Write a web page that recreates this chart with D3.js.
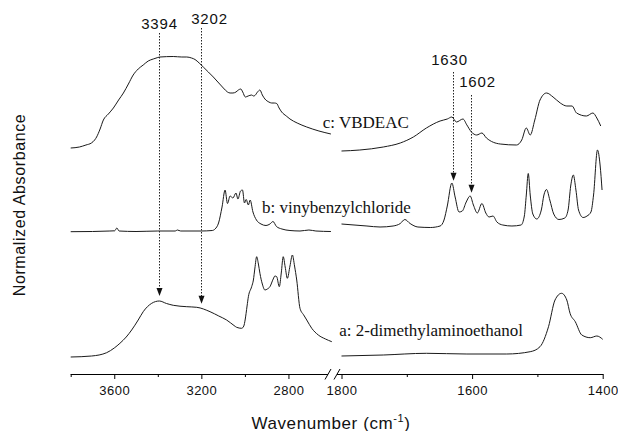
<!DOCTYPE html>
<html><head><meta charset="utf-8">
<script src="https://cdn.jsdelivr.net/npm/d3@7"></script>
<style>body{margin:0;background:#fff} svg{display:block}</style>
</head><body><svg id="chart" width="618" height="431"></svg>
<script>
// ---------- data (wavenumber in cm-1, normalized absorbance with stacking offset) ----------
const cLeftWn  = [3800,3760,3730,3705,3690,3681,3665,3650,3627,3604,3580,3558,3535,3513,3490,3467,3444,3421,3400,3390,3329,3290,3267,3245,3229,3210,3191,3168,3145,3120,3099,3080,3068,3055,3041,3030,3019,3010,2998,2985,2969,2960,2954,2942,2931,2920,2908,2890,2877,2865,2854,2843,2831,2810,2793,2760,2716,2660,2605];
const cLeftAbs = [2.22,2.23,2.25,2.27,2.30,2.33,2.41,2.50,2.56,2.62,2.70,2.77,2.86,2.95,3.01,3.05,3.09,3.11,3.125,3.13,3.135,3.13,3.13,3.12,3.105,3.07,3.03,2.98,2.93,2.87,2.82,2.78,2.77,2.77,2.78,2.80,2.81,2.78,2.73,2.74,2.75,2.74,2.745,2.78,2.80,2.75,2.71,2.68,2.67,2.67,2.665,2.62,2.58,2.54,2.51,2.47,2.43,2.39,2.36];
const cRightWn  = [1800,1772,1736,1710,1690,1670,1649,1638,1631,1624,1614,1608,1601,1593,1585,1578,1557,1532,1524,1517,1511,1504,1496,1486,1476,1465,1455,1447,1440,1425,1415,1409,1403];
const cRightAbs = [2.19,2.20,2.23,2.27,2.33,2.42,2.49,2.51,2.53,2.48,2.51,2.45,2.38,2.35,2.37,2.32,2.26,2.25,2.30,2.42,2.35,2.50,2.70,2.77,2.73,2.67,2.64,2.64,2.57,2.54,2.57,2.52,2.44];

const bLeftWn  = [3800,3700,3620,3598,3588,3578,3500,3400,3320,3310,3295,3200,3150,3137,3121,3105,3091,3080,3068,3055,3041,3032,3020,3011,3002,2994,2984,2976,2963,2947,2926,2903,2885,2871,2855,2830,2793,2747,2706,2674,2605];
const bLeftAbs = [1.383,1.385,1.39,1.392,1.42,1.39,1.385,1.39,1.39,1.40,1.39,1.39,1.395,1.41,1.47,1.63,1.80,1.665,1.74,1.72,1.77,1.71,1.79,1.80,1.67,1.705,1.65,1.70,1.58,1.50,1.46,1.445,1.46,1.485,1.435,1.41,1.395,1.39,1.40,1.39,1.385];
const bRightWn  = [1800,1761,1741,1721,1710,1703,1695,1683,1664,1649,1643,1638,1631,1626,1620,1615,1609,1603,1598,1592,1585,1579,1574,1568,1562,1553,1539,1525,1520,1517,1514,1511,1507,1501,1494,1490,1486,1481,1475,1467,1458,1453,1449,1445,1441,1437,1430,1424,1418,1414,1408,1404,1401];
const bRightAbs = [1.46,1.44,1.43,1.44,1.465,1.505,1.465,1.43,1.425,1.44,1.50,1.64,1.87,1.73,1.58,1.59,1.68,1.74,1.65,1.57,1.665,1.57,1.53,1.54,1.48,1.45,1.44,1.45,1.54,1.75,1.965,1.75,1.56,1.51,1.60,1.75,1.805,1.70,1.56,1.505,1.52,1.60,1.84,1.95,1.80,1.60,1.525,1.54,1.58,1.75,2.20,2.05,1.80];

const aLeftWn  = [3800,3704,3635,3600,3574,3545,3520,3490,3467,3428,3393,3360,3329,3267,3221,3160,3120,3084,3050,3038,3015,3005,2999,2990,2984,2969,2961,2954,2946,2938,2931,2920,2908,2897,2885,2870,2862,2854,2842,2833,2824,2815,2805,2793,2782,2772,2762,2747,2730,2716,2693,2663,2630,2601];
const aLeftAbs = [0.13,0.14,0.173,0.22,0.267,0.33,0.40,0.50,0.583,0.667,0.69,0.665,0.647,0.633,0.627,0.583,0.54,0.50,0.445,0.427,0.417,0.44,0.50,0.64,0.733,0.833,0.90,1.02,1.133,1.06,0.967,0.86,0.80,0.81,0.833,0.91,0.94,0.933,0.833,0.97,1.133,1.03,0.917,1.04,1.15,1.04,0.90,0.617,0.55,0.50,0.417,0.35,0.31,0.283];
const aRightWn  = [1800,1736,1670,1608,1547,1511,1496,1483,1473,1463,1455,1450,1442,1432,1419,1409,1400];
const aRightAbs = [0.14,0.15,0.167,0.16,0.16,0.183,0.233,0.433,0.70,0.767,0.70,0.567,0.483,0.35,0.323,0.34,0.307];

const seriesNames = ["c: VBDEAC", "b: vinybenzylchloride", "a: 2-dimethylaminoethanol"];
const leftTicksMajor  = [3600, 3200, 2800];
const leftTicksMinor  = [3800, 3400, 3000];
const rightTicksMajor = [1800, 1600, 1400];
const rightTicksMinor = [1700, 1500];
const annotationWn     = [3394, 3202, 1630, 1602];
const annotationLabels = ["3394", "3202", "1630", "1602"];
const xTitle = "Wavenumber (cm";
const xTitleSup = "-1";
const yTitle = "Normalized Absorbance";

// ---------- drawing ----------
const svg = d3.select("#chart");
const xL = d3.scaleLinear().domain([3800, 2600]).range([70.7, 332]);
const xR = d3.scaleLinear().domain([1800, 1400]).range([341.5, 602.7]);
const y  = d3.scaleLinear().domain([0, 3.5]).range([370, 20]);

const zip = (w, a) => w.map((v, i) => [v, a[i]]);
const series = [
  {x: xL, pts: zip(cLeftWn, cLeftAbs)},
  {x: xR, pts: zip(cRightWn, cRightAbs)},
  {x: xL, pts: zip(bLeftWn, bLeftAbs)},
  {x: xR, pts: zip(bRightWn, bRightAbs)},
  {x: xL, pts: zip(aLeftWn, aLeftAbs)},
  {x: xR, pts: zip(aRightWn, aRightAbs)}
];
const lineCol = "#1a1a1a";
series.forEach(s => {
  const line = d3.line().x(d => s.x(d[0])).y(d => y(d[1])).curve(d3.curveMonotoneX);
  svg.append("path").attr("d", line(s.pts)).attr("fill", "none")
     .attr("stroke", lineCol).attr("stroke-width", 1);
});

// series labels
const serif = "'Liberation Serif','Times New Roman',serif";
const labelPos = [[322.7, 127.5], [262, 212.5], [339.3, 336]];
seriesNames.forEach((t, i) => {
  svg.append("text").attr("x", labelPos[i][0]).attr("y", labelPos[i][1])
     .attr("font-family", serif).attr("font-size", 17).attr("fill", "#111").text(t);
});

// axes
const sans = "'Liberation Sans',Arial,Helvetica,sans-serif";
const axisY = 374;
function drawAxis(scale, major, minor) {
  const g = svg.append("g").attr("transform", `translate(0,${axisY})`)
    .call(d3.axisBottom(scale).tickValues(major).tickSize(5).tickSizeOuter(0).tickFormat(d3.format("d")));
  g.select(".domain").remove();
  g.selectAll("text").attr("y", 12).attr("font-size", 13).attr("font-family", sans)
    .style("letter-spacing", "0.5px").attr("fill", "#111");
  const gm = svg.append("g").attr("transform", `translate(0,${axisY})`)
    .call(d3.axisBottom(scale).tickValues(minor).tickSize(3).tickSizeOuter(0).tickFormat(""));
  gm.select(".domain").remove();
}
drawAxis(xL, leftTicksMajor, leftTicksMinor);
drawAxis(xR, rightTicksMajor, rightTicksMinor);
svg.append("line").attr("x1", xL.range()[0]).attr("x2", 328).attr("y1", axisY + 0.5).attr("y2", axisY + 0.5)
   .attr("stroke", "#000").attr("stroke-width", 1);
svg.append("line").attr("x1", 337).attr("x2", xR.range()[1] + 0.5).attr("y1", axisY + 0.5).attr("y2", axisY + 0.5)
   .attr("stroke", "#000").attr("stroke-width", 1);
// break marks
[[325, 331], [334, 340]].forEach(([a, b]) => {
  svg.append("line").attr("x1", a).attr("y1", axisY + 5.5).attr("x2", b).attr("y2", axisY - 5)
     .attr("stroke", "#000").attr("stroke-width", 1);
});

// axis titles
const xt = svg.append("text").attr("x", 331).attr("y", 428.5).attr("text-anchor", "middle")
  .attr("font-family", sans).attr("font-size", 17).style("letter-spacing", "0.6px").attr("fill", "#111");
xt.append("tspan").text(xTitle);
xt.append("tspan").attr("font-size", 11).attr("dy", -7).text(xTitleSup);
xt.append("tspan").attr("dy", 7).text(")");

svg.append("text").attr("transform", "translate(25,205) rotate(-90)").attr("text-anchor", "middle")
  .attr("font-family", sans).attr("font-size", 16).style("letter-spacing", "0.6px").attr("fill", "#111").text(yTitle);

// annotations: dotted arrows pointing to curve a (left) and curve b (right)
function interp(pts, w) {
  for (let i = 0; i < pts.length - 1; i++) {
    const [w0, v0] = pts[i], [w1, v1] = pts[i + 1];
    if ((w <= w0 && w >= w1)) return v0 + (v1 - v0) * (w - w0) / (w1 - w0);
  }
  return pts[pts.length - 1][1];
}
const annTarget = [series[4], series[4], series[3], series[3]];
const annLayout = [ // [label dx, label baseline y, line top y]
  [0, 28.5, 33], [8, 24, 28], [-4, 64.5, 72], [6, 87, 95]
];
annotationWn.forEach((w, i) => {
  const s = annTarget[i];
  const ax = Math.round(s.x(w)) + 0.5;
  const tip = y(interp(s.pts, w)) - 5;
  const [dx, ly, top] = annLayout[i];
  svg.append("text").attr("x", ax + dx).attr("y", ly).attr("text-anchor", "middle")
     .attr("font-family", sans).attr("font-size", 15).style("letter-spacing", "0.8px")
     .attr("fill", "#111").text(annotationLabels[i]);
  svg.append("line").attr("x1", ax).attr("x2", ax).attr("y1", top).attr("y2", tip - 6)
     .attr("stroke", "#222").attr("stroke-width", 1).attr("stroke-dasharray", "1.5,1.5");
  svg.append("path").attr("d", `M${ax - 3},${tip - 8}L${ax + 3},${tip - 8}L${ax},${tip}Z`).attr("fill", "#111");
});
</script></body></html>
